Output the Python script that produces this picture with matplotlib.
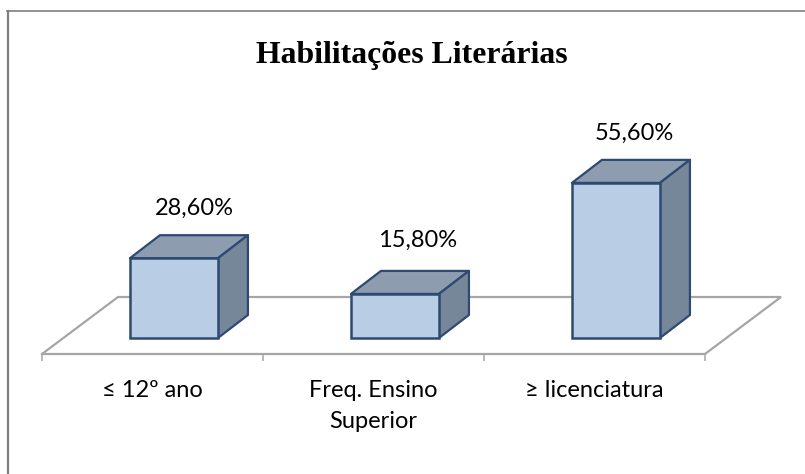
import matplotlib
matplotlib.use("Agg")
import matplotlib.pyplot as plt
from matplotlib.patches import Polygon

categories = ["≤ 12º ano", "Freq. Ensino\nSuperior", "≥ licenciatura"]
values = [28.6, 15.8, 55.6]
value_labels = ["28,60%", "15,80%", "55,60%"]
title = "Habilitações Literárias"

W, H = 805, 474
PX_CAT = 221.0
PX_PCT = 2.79
FRONT = "#B9CDE5"
TOP = "#8E9CB0"
SIDE = "#76879A"
EDGE = "#2E4A72"
GRAY = "#A6A6A6"

# depth of the fake 3d, in data units
bar_w = 88 / PX_CAT
bar_shift = 0.097
depth_x = 30 / PX_CAT
depth_y = 23 / PX_PCT
floor_dx = 76 / PX_CAT
floor_dy = 57 / PX_PCT
floor_y = -16 / PX_PCT
# label offsets from the bar top, in pixels
label_dx = [20, 23, 18]
label_dy = [50, 54, 50]


def main():
    fig = plt.figure(figsize=(W / 100, H / 100), dpi=100)
    ax_top = 30
    ax = fig.add_axes([42 / W, (H - 354) / H, 663 / W, (354 - ax_top) / H])
    ax.set_xlim(-0.5, 2.5)
    ax.set_ylim(floor_y, floor_y + (354 - ax_top) / PX_PCT)
    ax.patch.set_visible(False)

    # floor
    x0, x1 = ax.get_xlim()
    floor = [(x0, floor_y), (x0 + floor_dx, floor_y + floor_dy),
             (x1 + floor_dx, floor_y + floor_dy), (x1, floor_y)]
    ax.add_patch(Polygon(floor, closed=False, fill=False, edgecolor=GRAY, lw=1.6,
                         clip_on=False, zorder=1))

    # bars
    for i, v in enumerate(values):
        left = i + bar_shift - bar_w / 2
        right = left + bar_w
        top_face = [(left, v), (left + depth_x, v + depth_y),
                    (right + depth_x, v + depth_y), (right, v)]
        side_face = [(right, 0), (right + depth_x, depth_y),
                     (right + depth_x, v + depth_y), (right, v)]
        for pts, col in [(top_face, TOP), (side_face, SIDE)]:
            ax.add_patch(Polygon(pts, closed=True, facecolor=col, edgecolor=EDGE,
                                 lw=1.6, joinstyle="round", clip_on=False, zorder=2))
        ax.bar(i + bar_shift, v, width=bar_w, color=FRONT, edgecolor=EDGE,
               linewidth=1.8, zorder=3)
        ax.annotate(value_labels[i], (i + bar_shift, v),
                    xytext=(label_dx[i] * 0.72, label_dy[i] * 0.72),
                    textcoords="offset points", ha="center", va="center",
                    fontsize=17, family="Lato", color="black")

    for side in ["top", "left", "right"]:
        ax.spines[side].set_visible(False)
    ax.spines["bottom"].set_color(GRAY)
    ax.spines["bottom"].set_linewidth(1.6)
    ax.set_yticks([])
    ax.set_xticks(range(len(categories)))
    ax.set_xticklabels(categories, fontsize=17, family="Lato", linespacing=1.55)
    ax.set_xticks([-0.5, 0.5, 1.5, 2.5], minor=True)
    ax.tick_params(axis="x", which="major", length=0, pad=19)
    ax.tick_params(axis="x", which="minor", length=5, width=1.1, color=GRAY)

    fig.text(412 / W, 1 - 55 / H, title, ha="center", va="center", fontsize=22.9,
             fontweight="bold", family="Liberation Serif", color="black")

    # frame, only left and top are visible in the source
    fig.add_artist(plt.Line2D([8 / W, 8 / W], [0, 1 - 10.5 / H], color="#7F7F7F", lw=1.6))
    fig.add_artist(plt.Line2D([7 / W, 1], [1 - 10.5 / H, 1 - 10.5 / H], color="#7F7F7F", lw=1.2))

    fig.savefig("out.png", dpi=100)


if __name__ == "__main__":
    main()
